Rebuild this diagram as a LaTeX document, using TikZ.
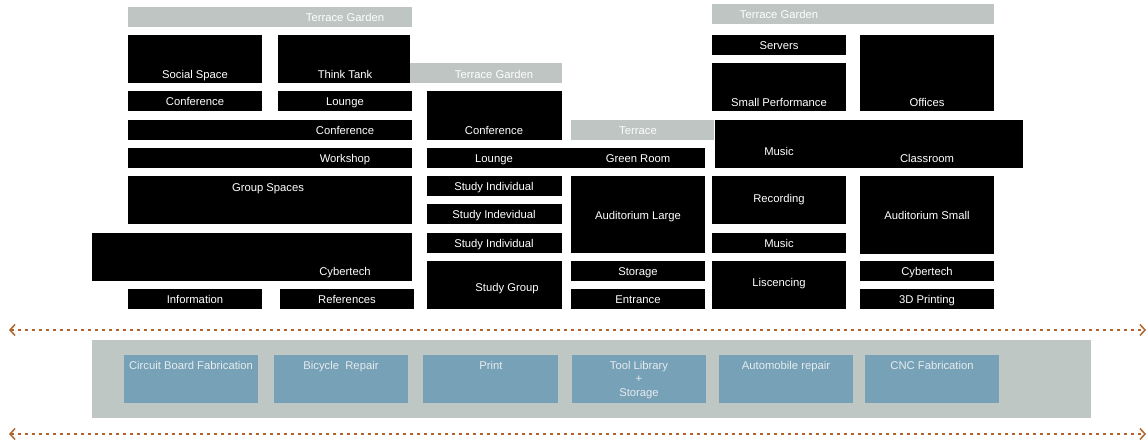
\documentclass[tikz,border=0pt]{standalone}
\usepackage{fontspec}
\setmainfont{Liberation Sans}
\usetikzlibrary{arrows.meta}
\definecolor{terracegray}{HTML}{BEC5C3}
\definecolor{bandgray}{HTML}{BFC7C5}
\definecolor{shopblue}{HTML}{77A1B7}
\definecolor{shoptext}{HTML}{E6ECEF}
\definecolor{flowbrown}{HTML}{B0632B}
\tikzset{
  room/.style={fill=black},
  terrace/.style={fill=terracegray},
  shop/.style={fill=shopblue},
  roomtext/.style={text=white,anchor=base,inner sep=0pt,yshift=-1bp,font=\fontsize{11.3}{13.5}\selectfont},
  shoptextstyle/.style={roomtext,text=shoptext},
  flow/.style={{Straight Barb[length=5bp,width=11bp,line width=1.5bp]}-{Straight Barb[length=5bp,width=11bp,line width=1.5bp]},
    draw=flowbrown,line width=1.3bp,dash pattern=on 3bp off 4bp},
}
\begin{document}
\begin{tikzpicture}[line join=bevel]
\useasboundingbox (0bp,0bp) rectangle (1148bp,442bp);
%% left block
  % Node: Terrace Garden
  \fill[terrace] (128bp,435bp) rectangle (412bp,415bp);
  \node[roomtext] (terracel) at (345bp,421bp) {Terrace Garden};
  % Node: Social Space
  \fill[room] (128bp,407bp) rectangle (262bp,359bp);
  \node[roomtext] (social) at (195bp,364bp) {Social Space};
  % Node: Think Tank
  \fill[room] (278bp,407bp) rectangle (410bp,359bp);
  \node[roomtext] (thinktank) at (345bp,364bp) {Think Tank};
  % Node: Conference
  \fill[room] (128bp,351bp) rectangle (262bp,331bp);
  \node[roomtext] (conferencea) at (195bp,337bp) {Conference};
  % Node: Lounge
  \fill[room] (278bp,351bp) rectangle (412bp,331bp);
  \node[roomtext] (loungea) at (345bp,337bp) {Lounge};
  % Node: Conference (wide)
  \fill[room] (128bp,322bp) rectangle (412bp,302bp);
  \node[roomtext] (conferenceb) at (345bp,308bp) {Conference};
  % Node: Workshop
  \fill[room] (128bp,294bp) rectangle (412bp,274bp);
  \node[roomtext] (workshop) at (345bp,280bp) {Workshop};
  % Node: Group Spaces
  \fill[room] (128bp,266bp) rectangle (412bp,218bp);
  \node[roomtext] (groupspaces) at (268bp,251bp) {Group Spaces};
  % Node: Cybertech
  \fill[room] (92bp,209bp) rectangle (412bp,161bp);
  \node[roomtext] (cybertecha) at (345bp,167bp) {Cybertech};
  % Node: Information
  \fill[room] (128bp,153bp) rectangle (262bp,133bp);
  \node[roomtext] (information) at (195bp,139bp) {Information};
  % Node: References
  \fill[room] (280bp,153bp) rectangle (414bp,133bp);
  \node[roomtext] (references) at (347bp,139bp) {References};
%% middle block
  % Node: Terrace Garden
  \fill[terrace] (410bp,379bp) rectangle (562bp,359bp);
  \node[roomtext] (terracem) at (494bp,364bp) {Terrace Garden};
  % Node: Conference
  \fill[room] (427bp,351bp) rectangle (562bp,302bp);
  \node[roomtext] (conferencec) at (494bp,308bp) {Conference};
  % Node: Terrace
  \fill[terrace] (571bp,322bp) rectangle (714bp,302bp);
  \node[roomtext] (terrace) at (638bp,308bp) {Terrace};
  % Node: Lounge / Green Room
  \fill[room] (427bp,294bp) rectangle (705bp,274bp);
  \node[roomtext] (loungeb) at (494bp,280bp) {Lounge};
  \node[roomtext] (greenroom) at (638bp,280bp) {Green Room};
  % Node: Study Individual
  \fill[room] (427bp,266bp) rectangle (562bp,246bp);
  \node[roomtext] (studya) at (494bp,252bp) {Study Individual};
  % Node: Study Indevidual
  \fill[room] (427bp,238bp) rectangle (562bp,218bp);
  \node[roomtext] (studyb) at (494bp,224bp) {Study Indevidual};
  % Node: Study Individual
  \fill[room] (427bp,209bp) rectangle (562bp,189bp);
  \node[roomtext] (studyc) at (494bp,195bp) {Study Individual};
  % Node: Study Group
  \fill[room] (427bp,181bp) rectangle (562bp,133bp);
  \node[roomtext] (studygroup) at (507bp,151bp) {Study Group};
  % Node: Auditorium Large
  \fill[room] (571bp,266bp) rectangle (705bp,189bp);
  \node[roomtext] (auditoriuml) at (638bp,223bp) {Auditorium Large};
  % Node: Storage
  \fill[room] (571bp,181bp) rectangle (705bp,161bp);
  \node[roomtext] (storage) at (638bp,167bp) {Storage};
  % Node: Entrance
  \fill[room] (571bp,153bp) rectangle (705bp,133bp);
  \node[roomtext] (entrance) at (638bp,139bp) {Entrance};
%% right block
  % Node: Terrace Garden
  \fill[terrace] (712bp,438bp) rectangle (994bp,418bp);
  \node[roomtext] (terracer) at (779bp,424bp) {Terrace Garden};
  % Node: Servers
  \fill[room] (712bp,407bp) rectangle (846bp,387bp);
  \node[roomtext] (servers) at (779bp,393bp) {Servers};
  % Node: Small Performance
  \fill[room] (712bp,379bp) rectangle (846bp,331bp);
  \node[roomtext] (smallperf) at (779bp,336bp) {Small Performance};
  % Node: Offices
  \fill[room] (860bp,407bp) rectangle (994bp,331bp);
  \node[roomtext] (offices) at (927bp,336bp) {Offices};
  % Node: Music / Classroom
  \fill[room] (715bp,322bp) rectangle (1023bp,274bp);
  \node[roomtext] (musica) at (779bp,287bp) {Music};
  \node[roomtext] (classroom) at (927bp,280bp) {Classroom};
  % Node: Recording
  \fill[room] (712bp,266bp) rectangle (846bp,218bp);
  \node[roomtext] (recording) at (779bp,240bp) {Recording};
  % Node: Music
  \fill[room] (712bp,209bp) rectangle (846bp,189bp);
  \node[roomtext] (musicb) at (779bp,195bp) {Music};
  % Node: Liscencing
  \fill[room] (712bp,181bp) rectangle (846bp,133bp);
  \node[roomtext] (liscencing) at (779bp,156bp) {Liscencing};
  % Node: Auditorium Small
  \fill[room] (860bp,266bp) rectangle (994bp,188bp);
  \node[roomtext] (auditoriums) at (927bp,223bp) {Auditorium Small};
  % Node: Cybertech
  \fill[room] (860bp,181bp) rectangle (994bp,161bp);
  \node[roomtext] (cybertechb) at (927bp,167bp) {Cybertech};
  % Node: 3D Printing
  \fill[room] (860bp,153bp) rectangle (994bp,133bp);
  \node[roomtext] (printing) at (927bp,139bp) {3D Printing};
%% workshop band
  \fill[bandgray] (92bp,102bp) rectangle (1091bp,24bp);
  % Node: Circuit Board Fabrication
  \fill[shop] (124bp,87bp) rectangle (258bp,39bp);
  \node[shoptextstyle] (circuit) at (191bp,73bp) {Circuit Board Fabrication};
  % Node: Bicycle Repair
  \fill[shop] (274bp,87bp) rectangle (408bp,39bp);
  \node[shoptextstyle] (bicycle) at (341bp,73bp) {Bicycle\ \ Repair};
  % Node: Print
  \fill[shop] (423bp,87bp) rectangle (558bp,39bp);
  \node[shoptextstyle] (print) at (491bp,73bp) {Print};
  % Node: Tool Library + Storage
  \fill[shop] (572bp,87bp) rectangle (706bp,39bp);
  \node[shoptextstyle,anchor=north,align=center] (toollib) at (639bp,82bp) {Tool Library\\+\\Storage};
  % Node: Automobile repair
  \fill[shop] (719bp,87bp) rectangle (853bp,39bp);
  \node[shoptextstyle] (automobile) at (786bp,73bp) {Automobile repair};
  % Node: CNC Fabrication
  \fill[shop] (865bp,87bp) rectangle (999bp,39bp);
  \node[shoptextstyle] (cnc) at (932bp,73bp) {CNC Fabrication};
%% flows
  \coordinate (flowaw) at (9bp,112bp);
  \coordinate (flowae) at (1146bp,112bp);
  \coordinate (flowbw) at (9bp,8bp);
  \coordinate (flowbe) at (1146bp,8bp);
  \draw[flow] (flowaw) -- (flowae);
  \draw[flow] (flowbw) -- (flowbe);
%
\end{tikzpicture}
\end{document}
